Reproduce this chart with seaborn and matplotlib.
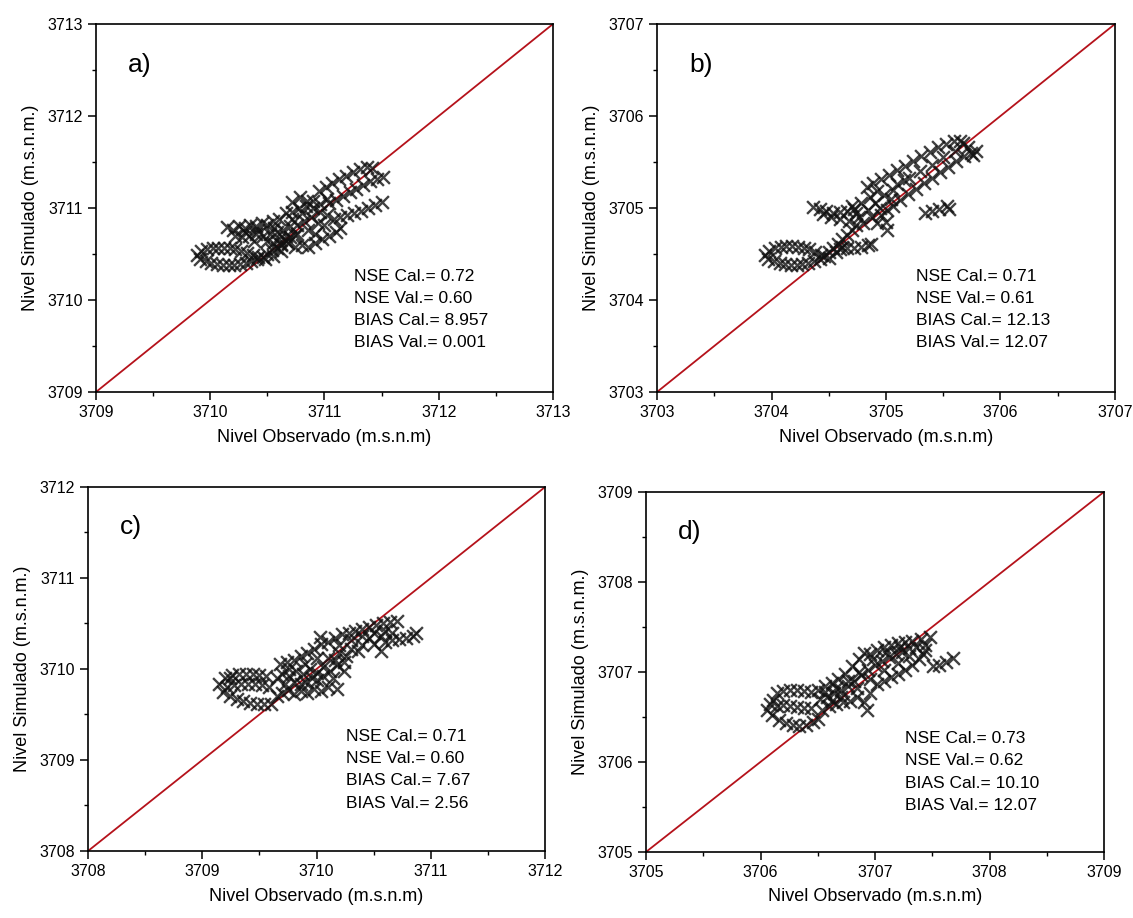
import numpy as np
import pandas as pd
import seaborn as sns
import matplotlib.pyplot as plt
from matplotlib.ticker import MultipleLocator

pts_a = [
    (3709.88, 3710.49), (3709.92, 3710.53), (3709.97, 3710.55), (3710.02, 3710.56), (3710.07, 3710.57),
    (3710.12, 3710.57), (3710.17, 3710.56), (3710.22, 3710.55), (3710.27, 3710.53), (3710.32, 3710.51),
    (3710.37, 3710.49), (3710.42, 3710.47), (3709.91, 3710.45), (3709.96, 3710.42), (3710.01, 3710.40),
    (3710.06, 3710.39), (3710.11, 3710.38), (3710.16, 3710.38), (3710.21, 3710.38), (3710.26, 3710.39),
    (3710.31, 3710.40), (3710.36, 3710.42), (3710.41, 3710.44), (3710.46, 3710.47), (3710.50, 3710.50),
    (3710.54, 3710.54), (3710.58, 3710.57), (3710.62, 3710.61), (3710.66, 3710.64), (3710.70, 3710.68),
    (3710.74, 3710.71), (3710.48, 3710.44), (3710.55, 3710.48), (3710.62, 3710.53),
    (3710.15, 3710.79), (3710.20, 3710.76), (3710.25, 3710.80), (3710.30, 3710.78), (3710.35, 3710.82),
    (3710.40, 3710.80), (3710.45, 3710.84), (3710.50, 3710.82), (3710.55, 3710.86), (3710.60, 3710.88),
    (3710.22, 3710.70), (3710.28, 3710.68), (3710.34, 3710.70), (3710.40, 3710.72), (3710.46, 3710.70),
    (3710.52, 3710.72), (3710.58, 3710.74), (3710.64, 3710.76), (3710.70, 3710.80), (3710.76, 3710.82),
    (3710.55, 3710.62), (3710.62, 3710.60), (3710.68, 3710.62), (3710.74, 3710.58), (3710.80, 3710.60),
    (3710.86, 3710.58), (3710.92, 3710.62), (3710.98, 3710.66), (3711.04, 3710.70), (3711.10, 3710.74),
    (3711.14, 3710.78), (3710.66, 3710.94), (3710.72, 3710.96), (3710.78, 3711.00), (3710.84, 3711.02),
    (3710.90, 3711.00), (3710.96, 3710.96), (3711.02, 3710.92), (3710.88, 3710.90), (3710.82, 3710.86),
    (3710.94, 3710.84), (3711.00, 3710.82), (3710.79, 3711.12), (3710.85, 3711.08), (3710.72, 3711.06),
    (3710.30, 3710.74), (3710.42, 3710.76), (3710.56, 3710.78), (3710.66, 3710.70), (3710.76, 3710.72),
    (3710.86, 3710.76), (3710.92, 3710.72), (3710.60, 3710.66), (3710.72, 3710.88), (3710.80, 3710.94),
    (3710.96, 3711.04), (3711.02, 3711.10), (3710.90, 3711.08), (3710.50, 3710.64), (3710.38, 3710.64),
    (3710.95, 3711.18), (3711.01, 3711.23), (3711.07, 3711.27), (3711.13, 3711.31), (3711.19, 3711.35),
    (3711.25, 3711.39), (3711.31, 3711.42), (3711.37, 3711.44), (3711.42, 3711.43),
    (3711.04, 3711.05), (3711.10, 3711.09), (3711.16, 3711.13), (3711.22, 3711.17), (3711.28, 3711.21),
    (3711.34, 3711.25), (3711.40, 3711.29), (3711.46, 3711.32), (3711.51, 3711.34),
    (3711.08, 3710.88), (3711.14, 3710.90), (3711.20, 3710.92), (3711.26, 3710.95), (3711.32, 3710.97),
    (3711.38, 3711.00), (3711.44, 3711.03), (3711.50, 3711.07),
]

pts_b = [
    (3703.94, 3704.49), (3703.98, 3704.53), (3704.03, 3704.56), (3704.08, 3704.58), (3704.13, 3704.59),
    (3704.18, 3704.59), (3704.23, 3704.58), (3704.28, 3704.57), (3704.33, 3704.55), (3704.38, 3704.52),
    (3704.43, 3704.49), (3703.97, 3704.45), (3704.02, 3704.42), (3704.07, 3704.40), (3704.12, 3704.39),
    (3704.17, 3704.38), (3704.22, 3704.38), (3704.27, 3704.39), (3704.32, 3704.40), (3704.37, 3704.42),
    (3704.42, 3704.44), (3704.46, 3704.48), (3704.50, 3704.52), (3704.54, 3704.56), (3704.58, 3704.61),
    (3704.62, 3704.66), (3704.66, 3704.71), (3704.70, 3704.76), (3704.74, 3704.81), (3704.50, 3704.46),
    (3704.56, 3704.52), (3704.62, 3704.58), (3704.60, 3704.55), (3704.66, 3704.56), (3704.72, 3704.57),
    (3704.78, 3704.58), (3704.84, 3704.60), (3704.87, 3704.61),
    (3704.36, 3705.01), (3704.42, 3704.99), (3704.48, 3704.97), (3704.54, 3704.95), (3704.60, 3704.96),
    (3704.66, 3704.97), (3704.72, 3704.99), (3704.45, 3704.93),
    (3704.78, 3705.05), (3704.83, 3705.23), (3704.86, 3705.12), (3704.90, 3705.05), (3704.95, 3705.00),
    (3705.01, 3704.98), (3705.06, 3705.02), (3704.92, 3705.18), (3704.98, 3705.14), (3705.04, 3705.10),
    (3705.01, 3704.76), (3705.00, 3704.85), (3704.96, 3704.92), (3704.76, 3704.90), (3704.80, 3704.84),
    (3704.70, 3705.02), (3704.74, 3704.94), (3704.84, 3704.98), (3704.88, 3704.90), (3704.92, 3704.84),
    (3705.06, 3705.20), (3705.10, 3705.26), (3705.16, 3705.30), (3704.52, 3704.90), (3704.60, 3704.88),
    (3704.68, 3704.86),
    (3704.89, 3705.27), (3704.96, 3705.31), (3705.03, 3705.36), (3705.10, 3705.41), (3705.17, 3705.46),
    (3705.24, 3705.51), (3705.31, 3705.56), (3705.38, 3705.61), (3705.45, 3705.66), (3705.52, 3705.70),
    (3705.59, 3705.73), (3705.65, 3705.73),
    (3705.20, 3705.33), (3705.30, 3705.40), (3705.40, 3705.47), (3705.50, 3705.55), (3705.60, 3705.62),
    (3705.12, 3705.09), (3705.19, 3705.15), (3705.26, 3705.21), (3705.33, 3705.27), (3705.40, 3705.33),
    (3705.47, 3705.39), (3705.54, 3705.45), (3705.61, 3705.51), (3705.68, 3705.56), (3705.74, 3705.60),
    (3705.79, 3705.62), (3705.67, 3705.71), (3705.76, 3705.58), (3705.72, 3705.66),
    (3705.34, 3704.95), (3705.40, 3704.97), (3705.46, 3704.99), (3705.53, 3705.02), (3705.55, 3704.99),
]

pts_c = [
    (3709.24, 3709.90), (3709.15, 3709.84), (3709.20, 3709.90), (3709.26, 3709.93), (3709.32, 3709.94),
    (3709.38, 3709.95), (3709.44, 3709.94), (3709.50, 3709.93), (3709.56, 3709.92), (3709.22, 3709.80),
    (3709.28, 3709.82), (3709.34, 3709.83), (3709.40, 3709.84), (3709.46, 3709.84), (3709.52, 3709.82),
    (3709.58, 3709.80), (3709.18, 3709.75), (3709.24, 3709.70), (3709.30, 3709.67), (3709.36, 3709.65),
    (3709.42, 3709.63), (3709.48, 3709.62), (3709.54, 3709.61), (3709.60, 3709.62),
    (3709.65, 3709.70), (3709.70, 3709.74), (3709.75, 3709.77), (3709.80, 3709.72), (3709.86, 3709.76),
    (3709.92, 3709.74), (3709.98, 3709.78), (3710.04, 3709.76), (3710.10, 3709.80), (3710.18, 3709.78),
    (3709.65, 3709.90), (3709.70, 3709.95), (3709.76, 3709.92), (3709.82, 3709.98), (3709.88, 3709.94),
    (3709.94, 3710.00), (3710.00, 3709.96), (3710.06, 3710.02), (3710.12, 3709.98), (3710.18, 3710.04),
    (3710.24, 3710.08), (3709.68, 3710.05), (3709.74, 3710.08), (3709.80, 3710.10), (3709.86, 3710.14),
    (3709.92, 3710.18), (3709.98, 3710.22), (3710.04, 3710.28), (3710.03, 3710.35), (3710.10, 3710.30),
    (3710.16, 3710.34), (3710.22, 3710.38), (3710.28, 3710.40), (3710.34, 3710.42), (3710.40, 3710.44),
    (3710.46, 3710.46), (3710.52, 3710.48), (3710.58, 3710.50), (3710.64, 3710.52), (3710.70, 3710.53),
    (3709.90, 3709.86), (3710.00, 3709.88), (3710.10, 3710.12), (3710.20, 3710.18), (3710.30, 3710.22),
    (3710.40, 3710.26), (3710.50, 3710.28), (3710.56, 3710.20), (3710.14, 3709.90), (3710.24, 3709.98),
    (3710.60, 3710.30), (3710.66, 3710.32), (3710.72, 3710.33), (3710.78, 3710.34), (3710.84, 3710.36),
    (3710.87, 3710.40), (3710.30, 3710.32), (3710.40, 3710.36), (3710.50, 3710.40), (3710.60, 3710.42),
    (3709.72, 3709.84), (3709.80, 3709.86), (3709.86, 3709.84), (3709.96, 3709.90), (3710.06, 3709.92),
    (3710.16, 3710.10), (3710.26, 3710.14), (3710.36, 3710.20), (3710.46, 3710.34), (3710.56, 3710.36),
    (3710.66, 3710.40), (3709.76, 3710.00), (3709.90, 3710.06), (3710.00, 3710.12), (3710.20, 3710.26),
]

pts_d = [
    (3706.14, 3706.76), (3706.20, 3706.79), (3706.26, 3706.80), (3706.32, 3706.80), (3706.38, 3706.79),
    (3706.44, 3706.78), (3706.08, 3706.64), (3706.14, 3706.62), (3706.20, 3706.63), (3706.26, 3706.62),
    (3706.32, 3706.61), (3706.38, 3706.60), (3706.44, 3706.60), (3706.10, 3706.52), (3706.16, 3706.46),
    (3706.22, 3706.43), (3706.28, 3706.41), (3706.34, 3706.40), (3706.40, 3706.41), (3706.46, 3706.44),
    (3706.50, 3706.48), (3706.06, 3706.58), (3706.11, 3706.69),
    (3706.50, 3706.80), (3706.56, 3706.84), (3706.62, 3706.88), (3706.68, 3706.92), (3706.74, 3706.98),
    (3706.80, 3707.06), (3706.86, 3707.14), (3706.90, 3707.21), (3706.96, 3707.20), (3707.02, 3707.24),
    (3707.08, 3707.28), (3707.14, 3707.30), (3707.20, 3707.32), (3707.26, 3707.33), (3707.32, 3707.34),
    (3706.52, 3706.70), (3706.58, 3706.72), (3706.64, 3706.76), (3706.70, 3706.80), (3706.76, 3706.84),
    (3706.82, 3706.90), (3706.88, 3706.96), (3706.94, 3707.02), (3707.00, 3707.08), (3707.06, 3707.12),
    (3707.12, 3707.16), (3707.18, 3707.20), (3707.24, 3707.22), (3707.30, 3707.26), (3707.36, 3707.28),
    (3706.54, 3706.58), (3706.60, 3706.62), (3706.66, 3706.64), (3706.72, 3706.66), (3706.78, 3706.68),
    (3706.84, 3706.72), (3706.90, 3706.66), (3706.93, 3706.58), (3706.96, 3706.76), (3707.02, 3706.86),
    (3707.08, 3706.90), (3707.14, 3706.94), (3707.20, 3706.98), (3707.26, 3707.02), (3707.32, 3707.08),
    (3707.38, 3707.14), (3707.42, 3707.20), (3707.44, 3707.30), (3707.48, 3707.39), (3707.40, 3707.36),
    (3706.56, 3706.78), (3706.66, 3706.82), (3706.76, 3706.90), (3706.86, 3707.00), (3706.98, 3707.14),
    (3707.10, 3707.22), (3707.22, 3707.28), (3707.30, 3707.18), (3707.20, 3707.10), (3707.08, 3707.02),
    (3706.96, 3706.92), (3706.84, 3706.82), (3706.70, 3706.72), (3706.62, 3706.68), (3707.44, 3707.24),
    (3707.51, 3707.06), (3707.56, 3707.08), (3707.62, 3707.11), (3707.68, 3707.15),
]

panel_tags = ["a)", "b)", "c)", "d)"]
axis_min = [3709, 3703, 3708, 3705]
stats = [
    ["NSE Cal.= 0.72", "NSE Val.= 0.60", "BIAS Cal.= 8.957", "BIAS Val.= 0.001"],
    ["NSE Cal.= 0.71", "NSE Val.= 0.61", "BIAS Cal.= 12.13", "BIAS Val.= 12.07"],
    ["NSE Cal.= 0.71", "NSE Val.= 0.60", "BIAS Cal.= 7.67", "BIAS Val.= 2.56"],
    ["NSE Cal.= 0.73", "NSE Val.= 0.62", "BIAS Cal.= 10.10", "BIAS Val.= 12.07"],
]
all_pts = [pts_a, pts_b, pts_c, pts_d]

sns.set_style("ticks")
plt.rcParams["font.family"] = ["Liberation Sans", "DejaVu Sans"]
plt.rcParams["text.color"] = "black"
plt.rcParams["axes.labelcolor"] = "black"

fig = plt.figure(figsize=(11.33, 9.18), dpi=100)
boxes = [
    [0.0847, 0.573, 0.4034, 0.4009],
    [0.5799, 0.573, 0.4042, 0.4009],
    [0.0777, 0.073, 0.4034, 0.3965],
    [0.5702, 0.072, 0.4042, 0.3922],
]

for i in range(4):
    ax = fig.add_axes(boxes[i])
    df = pd.DataFrame(all_pts[i], columns=["obs", "sim"])
    lo = axis_min[i]
    hi = lo + 4
    ax.plot([lo, hi], [lo, hi], color="#b5121b", lw=1.3, zorder=1)
    sns.scatterplot(data=df, x="obs", y="sim", ax=ax, marker="x", s=85,
                    color="#111111", linewidth=1.7, alpha=0.8, zorder=2)
    ax.set_xlim(lo, hi)
    ax.set_ylim(lo, hi)
    ax.xaxis.set_major_locator(MultipleLocator(1))
    ax.yaxis.set_major_locator(MultipleLocator(1))
    ax.xaxis.set_minor_locator(MultipleLocator(0.5))
    ax.yaxis.set_minor_locator(MultipleLocator(0.5))
    ax.tick_params(which="major", direction="out", length=6, width=1.1, labelsize=11.5, colors="black")
    ax.tick_params(which="minor", direction="out", length=3, width=1.0, colors="black")
    for sp in ax.spines.values():
        sp.set_visible(True)
        sp.set_linewidth(1.2)
        sp.set_color("black")
    ax.set_xlabel("Nivel Observado (m.s.n.m)", fontsize=13, labelpad=6)
    ax.set_ylabel("Nivel Simulado (m.s.n.m.)", fontsize=13, labelpad=6)
    ax.text(0.07, 0.87, panel_tags[i], transform=ax.transAxes, fontsize=19)
    ax.text(0.565, 0.335, "\n".join(stats[i]), transform=ax.transAxes,
            fontsize=12.5, va="top", ha="left", linespacing=1.6)

fig.savefig("out.png", dpi=100)
